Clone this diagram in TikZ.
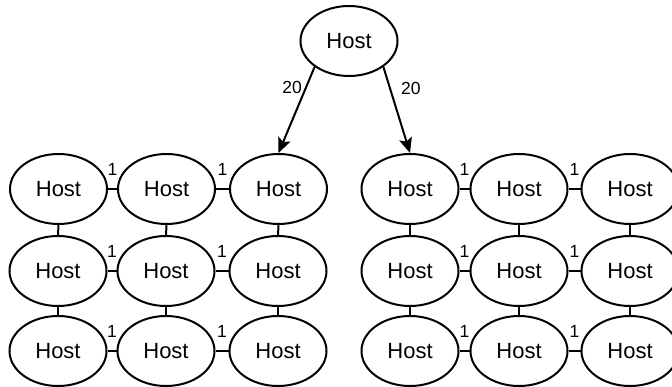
\documentclass[tikz,border=0pt]{standalone}
\usepackage{fontspec}
\setmainfont{Liberation Sans}
\usetikzlibrary{shapes.geometric,arrows.meta}
\begin{document}
\begin{tikzpicture}[x=1pt,y=-1pt,
  host/.style={ellipse, draw, line width=2pt, minimum width=97pt, minimum height=70pt, inner sep=0pt, font=\fontsize{22}{26}\selectfont},
  link/.style={line width=2pt},
  lbl/.style={font=\fontsize{17.5}{20}\selectfont, inner sep=0pt},
  arr/.style={line width=2pt, -{Stealth[length=15pt,width=13pt,inset=3pt]}}]
\clip (0,0) rectangle (672,387);
\fill[white] (0,0) rectangle (672,387);
% top
\node[host] (top) at (349,41) {Host};
% left group
\node[host] (a11) at (58.5,189) {Host};
\node[host] (a12) at (166.5,189) {Host};
\node[host] (a13) at (278.5,189) {Host};
\node[host] (a21) at (58,271) {Host};
\node[host] (a22) at (166,271) {Host};
\node[host] (a23) at (278,271) {Host};
\node[host] (a31) at (58,351) {Host};
\node[host] (a32) at (166,351) {Host};
\node[host] (a33) at (278,351) {Host};
% right group
\node[host] (b11) at (410,189) {Host};
\node[host] (b12) at (519,189) {Host};
\node[host] (b13) at (630,189) {Host};
\node[host] (b21) at (410,271) {Host};
\node[host] (b22) at (519,271) {Host};
\node[host] (b23) at (630,271) {Host};
\node[host] (b31) at (410,351) {Host};
\node[host] (b32) at (519,351) {Host};
\node[host] (b33) at (630,351) {Host};
% horizontal links
\foreach \g in {a,b}{
  \foreach \r in {1,2,3}{
    \draw[link] (\g\r1) -- node[lbl, midway, yshift=20pt] {1} (\g\r2);
    \draw[link] (\g\r2) -- node[lbl, midway, yshift=20pt] {1} (\g\r3);
  }
  \foreach \c in {1,2,3}{
    \draw[link] (\g1\c) -- (\g2\c);
    \draw[link] (\g2\c) -- (\g3\c);
  }
}
% arrows
\draw[arr] (top.-143) -- node[lbl, pos=0.24, left=3pt] {20} (a13.north);
\draw[arr] (top.-37) -- node[lbl, pos=0.25, right=10pt] {20} (b11.north);
\end{tikzpicture}
\end{document}
